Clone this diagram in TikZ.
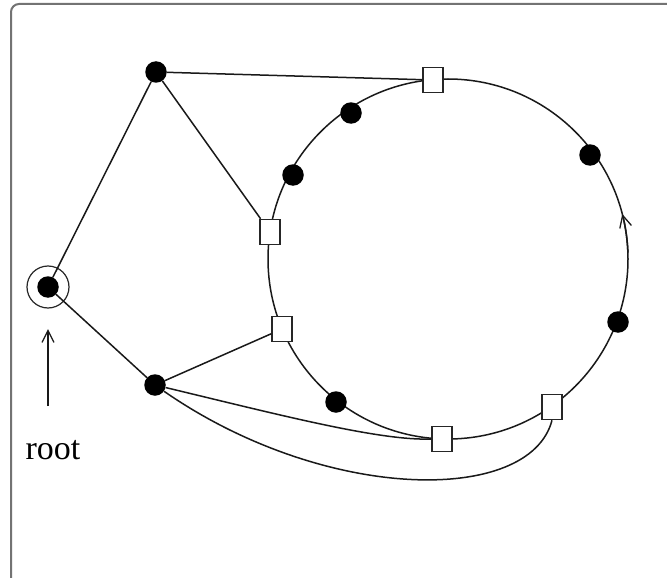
\documentclass[tikz,border=0pt]{standalone}
\usepackage{fontspec}
\setmainfont{Liberation Serif}
\usetikzlibrary{arrows.meta}
\begin{document}
\begin{tikzpicture}[x=1pt,y=-1pt,
  dotnode/.style={circle,fill=black,inner sep=0pt,minimum size=21.5pt},
  sqnode/.style={rectangle,draw=black!85,fill=white,line width=1.5pt,inner sep=0pt,minimum width=20pt,minimum height=25pt},
  edge/.style={draw=black!90,line width=1.5pt},
  tip/.style={-{Straight Barb[length=12pt,width=12pt,line width=1.3pt]}}
]
\useasboundingbox (0,0) rectangle (667,578);
\draw[black!55,line width=2pt,rounded corners=8pt] (11,4) rectangle (700,620);

% main circle
\coordinate (c) at (448,259);
\draw[edge] (c) circle[radius=180];
\draw[edge,tip] ([shift={(-2:180)}]c) arc[start angle=-2,end angle=-14.5,radius=180];

% nodes
\node[dotnode] (a) at (156,72) {};
\node[dotnode] (r) at (48,287) {};
\node[circle,draw=black!85,line width=1.2pt,minimum size=42pt,inner sep=0pt] (ring) at (48,287) {};
\node[dotnode] (b) at (155,385) {};

\node[dotnode] (d1) at (351,113) {};
\node[dotnode] (d2) at (293,175) {};
\node[dotnode] (d3) at (590,155) {};
\node[dotnode] (d4) at (618,322) {};
\node[dotnode] (d5) at (336,402) {};

\node[sqnode] (s1) at (433,80) {};
\node[sqnode] (s2) at (270,232) {};
\node[sqnode] (s3) at (282,329) {};
\node[sqnode] (s4) at (442,439) {};
\node[sqnode] (s5) at (552,407) {};

% connectors
\draw[edge] (a) -- (s1);
\draw[edge] (a) -- (s2);
\draw[edge] (r) -- (a);
\draw[edge] (r) -- (b);
\draw[edge] (b) -- (s3);
\draw[edge] (b) .. controls (280,415) and (380,441) .. (s4.west);
\draw[edge] (b) .. controls (325,503) and (530,505) .. (s5.south);

% root label
\node[font=\fontsize{34}{40}\selectfont,inner sep=0pt] (lbl) at (53,450) {root};
\coordinate (arrtop) at (48,329);
\draw[edge,tip] (48,406) -- (arrtop);
\end{tikzpicture}
\end{document}
